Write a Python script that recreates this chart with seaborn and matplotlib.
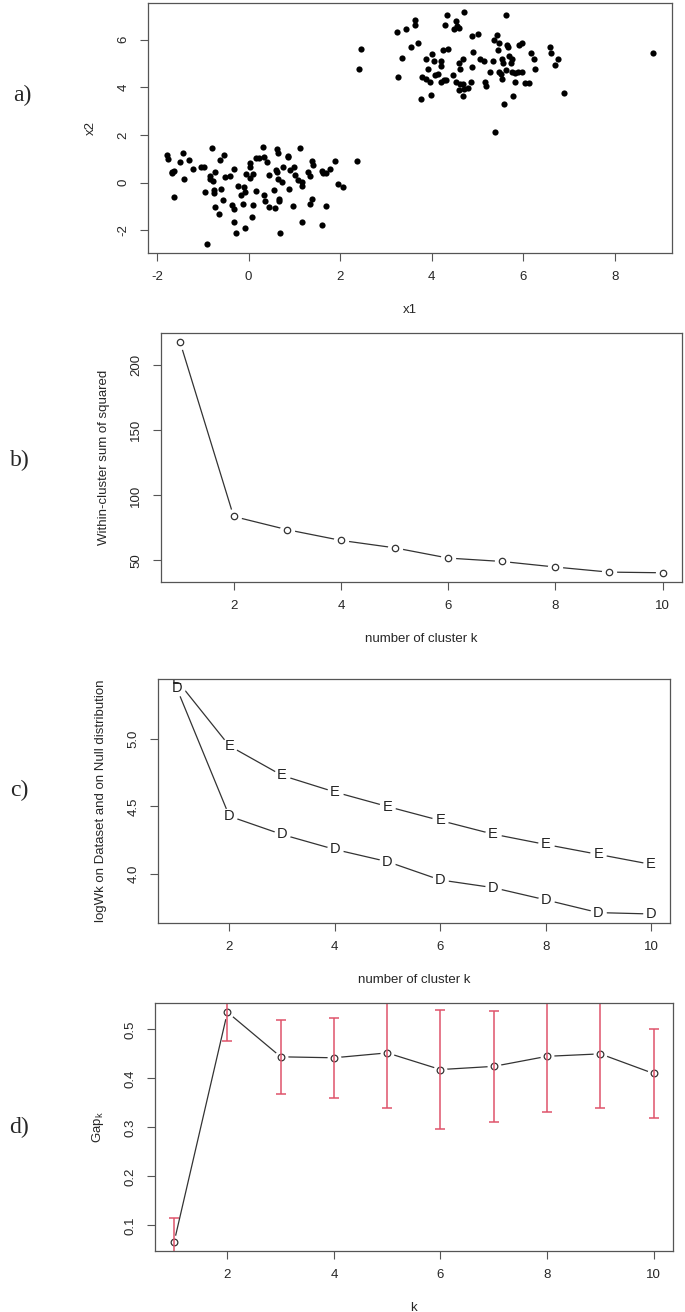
import matplotlib
matplotlib.use("Agg")
import matplotlib.pyplot as plt
import seaborn as sns
import pandas as pd

# a) two simulated clusters (read off the scatter)
c1_x = [-1.78, -1.76, -1.43, -1.49, -1.30, -1.67, -1.63, -1.68, -1.42, -1.21, -1.64, -1.05, -0.98,
        -0.80, -0.53, -0.63, -0.84, -0.85, -0.78, -0.73, -0.95, -0.76, -0.76, -0.60, -0.73, -0.65,
        -0.57, -0.51, -0.41, -0.32, -0.23, -0.11, -0.17, -0.07, -0.12, -0.36, -0.33, -0.32, -0.27,
        -0.07, -0.91, -0.05, 0.02, 0.02, 0.04, 0.09, 0.15, 0.22, 0.15, 0.09, 0.07, 0.31, 0.33, 0.40,
        0.44, 0.33, 0.35, 0.44, 0.57, 0.55, 0.61, 0.64, 0.60, 0.62, 0.65, 0.73, 0.66, 0.66, 0.68,
        0.76, 0.87, 0.87, 0.91, 1.00, 1.02, 0.89, 0.97, 1.12, 1.08, 1.17, 1.17, 1.16, 1.30, 1.35,
        1.38, 1.40, 1.38, 1.33, 1.60, 1.62, 1.69, 1.78, 1.70, 1.61, 1.89, 1.95, 2.07, 2.37]
c1_y = [1.16, 0.98, 1.25, 0.86, 0.95, 0.45, 0.50, 0.39, 0.14, 0.59, -0.60, 0.67, 0.67,
        1.45, 1.18, 0.95, 0.28, 0.15, 0.07, 0.43, -0.39, -0.31, -0.42, -0.26, -1.00, -1.32,
        -0.74, 0.25, 0.28, 0.56, -0.14, -0.17, -0.52, -0.40, -0.91, -0.93, -1.09, -1.64, -2.12,
        -1.92, -2.56, 0.35, 0.81, 0.67, 0.20, 0.35, 1.02, 1.02, -0.33, -0.95, -1.44, 1.51, 1.09, 0.86,
        0.32, -0.52, -0.78, -1.00, -1.07, -0.31, 1.42, 1.25, 0.53, 0.43, 0.14, 0.03, -0.68, -0.77, -2.09,
        0.64, 1.14, 1.06, 0.54, 0.68, 0.32, -0.25, -0.98, 1.46, 0.11, 0.03, -0.13, -1.64, 0.46, 0.29,
        0.92, 0.75, -0.67, -0.88, 0.50, 0.42, 0.42, 0.56, -0.96, -1.77, 0.93, -0.04, -0.18, 0.93]
c2_x = [2.41, 2.46, 3.23, 3.44, 3.64, 3.63, 3.55, 3.69, 3.34, 3.27, 4.33, 4.28, 4.53, 4.55, 4.49,
        4.60, 4.71, 4.88, 5.00, 5.63, 5.42, 5.35, 5.46, 5.64, 5.67, 5.91, 5.97, 5.45, 4.25, 4.36,
        4.89, 4.00, 3.88, 4.05, 4.19, 4.19, 3.92, 3.79, 3.88, 3.97, 4.07, 4.13, 4.20, 4.27, 4.31,
        3.77, 3.99, 4.47, 4.53, 4.60, 4.69, 4.62, 4.61, 4.67, 4.60, 4.71, 4.78, 4.69, 4.88, 4.86,
        5.06, 5.13, 5.15, 5.18, 5.26, 5.33, 5.53, 5.56, 5.46, 5.51, 5.53, 5.63, 5.69, 5.74, 5.72,
        5.74, 5.81, 5.88, 5.96, 5.82, 6.03, 6.12, 6.16, 6.23, 6.25, 6.57, 6.60, 6.76, 6.68, 6.88,
        5.77, 5.57, 5.39, 8.82]
c2_y = [4.77, 5.59, 6.34, 6.45, 6.84, 6.63, 5.71, 5.85, 5.24, 4.43, 7.04, 6.63, 6.77, 6.59, 6.45,
        6.48, 7.15, 6.15, 6.24, 7.02, 6.20, 5.99, 5.85, 5.78, 5.71, 5.79, 5.85, 5.58, 5.58, 5.59,
        5.48, 5.41, 5.17, 5.09, 5.10, 4.89, 4.75, 4.43, 4.34, 4.22, 4.52, 4.55, 4.22, 4.29, 4.29,
        3.51, 3.69, 4.50, 4.22, 5.02, 5.20, 4.75, 4.15, 4.15, 3.88, 3.94, 3.99, 3.62, 4.85, 4.24,
        5.20, 5.10, 4.24, 4.06, 4.64, 5.10, 5.17, 5.03, 4.66, 4.55, 4.34, 4.73, 5.30, 5.20, 5.03,
        4.64, 4.60, 4.66, 4.66, 4.22, 4.18, 4.19, 5.43, 5.17, 4.78, 5.69, 5.43, 5.20, 4.95, 3.76,
        3.65, 3.30, 2.13, 5.43]

# b) elbow curve
k = [1, 2, 3, 4, 5, 6, 7, 8, 9, 10]
wss = [218.0, 83.8, 73.6, 65.4, 59.7, 51.8, 49.2, 44.9, 41.0, 40.5]

# c) log(W_k) on data (D) and null reference (E)
logw_data = [5.38, 4.427, 4.291, 4.18, 4.089, 3.953, 3.896, 3.805, 3.71, 3.70]
logw_null = [5.44, 4.95, 4.73, 4.607, 4.499, 4.395, 4.294, 4.217, 4.143, 4.069]

# d) gap statistic with standard errors
gap = [0.0667, 0.535, 0.444, 0.442, 0.452, 0.418, 0.4245, 0.445, 0.450, 0.410]
gap_se = [0.049, 0.0595, 0.076, 0.082, 0.112, 0.1217, 0.1125, 0.1137, 0.110, 0.090]

sns.set_style("white")
plt.rcParams["font.family"] = ["Liberation Sans", "DejaVu Sans"]
plt.rcParams["axes.unicode_minus"] = False
plt.rcParams["mathtext.default"] = "regular"

W, H = 685, 1312
FS = 9.5
LINE = "#333333"
FRAME = "#555555"
RED = "#DF536B"


def r_range(v):
    """R style axis range: data range plus 4% each side."""
    lo, hi = min(v), max(v)
    pad = 0.04 * (hi - lo)
    return lo - pad, hi + pad


def make_axes(fig, left, right, top, bottom):
    ax = fig.add_axes([left / W, 1 - bottom / H, (right - left) / W, (bottom - top) / H])
    for sp in ax.spines.values():
        sp.set_visible(True)
        sp.set_color(FRAME)
        sp.set_linewidth(0.9)
        sp.set_zorder(10)
    ax.tick_params(direction="out", length=5.8, width=0.8, color=FRAME,
                   labelsize=FS, pad=7.5, left=True, bottom=True)
    ax.tick_params(axis="y", labelrotation=90)
    return ax


def set_labels(ax, xlabel, ylabel, h_px, w_px):
    ax.set_xlabel(xlabel, fontsize=FS)
    ax.set_ylabel(ylabel, fontsize=FS)
    ax.xaxis.set_label_coords(0.5, -57 / h_px)
    ax.xaxis.label.set_va("center")
    ax.yaxis.set_label_coords(-57 / w_px, 0.5)
    ax.yaxis.label.set_va("center")
    for lab in ax.get_yticklabels():
        lab.set_va("center")


def gapped_line(ax, x, y, gap_ms):
    sns.lineplot(x=x, y=y, color=LINE, linewidth=0.9, ax=ax, zorder=2)
    ax.plot(x, y, "o", ms=gap_ms, color="white", mec="none", zorder=3)


fig = plt.figure(figsize=(W / 100, H / 100), dpi=100)

# ---- a) scatter
ax = make_axes(fig, 147.7, 672, 3, 253)
pts = pd.DataFrame({"x1": c1_x + c2_x, "x2": c1_y + c2_y})
sns.scatterplot(data=pts, x="x1", y="x2", color="black", s=20, linewidth=0, ax=ax)
ax.set_xlim(*r_range(pts["x1"]))
ax.set_ylim(*r_range(pts["x2"]))
ax.set_xticks([-2, 0, 2, 4, 6, 8])
ax.set_yticks([-2, 0, 2, 4, 6])
set_labels(ax, "x1", "x2", 250, 524)

# ---- b) elbow
ax = make_axes(fig, 160.7, 682, 332.7, 582)
gapped_line(ax, k, wss, 11)
ax.plot(k, wss, "o", ms=4.6, mfc="none", mec=LINE, mew=0.9, zorder=4)
ax.set_xlim(*r_range(k))
ax.set_ylim(*r_range(wss))
ax.set_xticks([2, 4, 6, 8, 10])
ax.set_yticks([50, 100, 150, 200])
set_labels(ax, "number of cluster k", "Within-cluster sum of squared", 249, 521)

# ---- c) log(Wk)
ax = make_axes(fig, 157.7, 670, 679, 923)
gapped_line(ax, k, logw_data, 12)
gapped_line(ax, k, logw_null, 12)
for xi, yd, ye in zip(k, logw_data, logw_null):
    ax.text(xi, yd, "D", ha="center", va="center", fontsize=10.5, color="#222222", zorder=5, clip_on=True)
    ax.text(xi, ye, "E", ha="center", va="center", fontsize=10.5, color="#222222", zorder=5, clip_on=True)
ax.set_xlim(*r_range(k))
ax.set_ylim(*r_range(logw_data))
ax.set_xticks([2, 4, 6, 8, 10])
ax.set_yticks([4.0, 4.5, 5.0])
ax.set_yticklabels(["4.0", "4.5", "5.0"])
set_labels(ax, "number of cluster k", "logWk on Dataset and on Null distribution", 244, 512)

# ---- d) gap statistic
ax = make_axes(fig, 155, 672.7, 1003, 1251)
gapped_line(ax, k, gap, 10)
ax.plot(k, gap, "o", ms=4.8, mfc="none", mec=LINE, mew=0.9, zorder=4)
ax.errorbar(k, gap, yerr=gap_se, fmt="none", ecolor=RED, elinewidth=1.1,
            capsize=3.6, capthick=1.1, zorder=5)
ax.set_xlim(*r_range(k))
ax.set_ylim(*r_range(gap))
ax.set_xticks([2, 4, 6, 8, 10])
ax.set_yticks([0.1, 0.2, 0.3, 0.4, 0.5])
set_labels(ax, "k", "Gap$_k$", 248, 518)

# panel letters
for lab, (px, py) in zip(["a)", "b)", "c)", "d)"], [(22, 95), (20, 460), (19, 790), (19, 1127)]):
    fig.text(px / W, 1 - py / H, lab, fontsize=17, family="Liberation Serif",
             ha="center", va="center")

fig.savefig("out.png", dpi=100)
